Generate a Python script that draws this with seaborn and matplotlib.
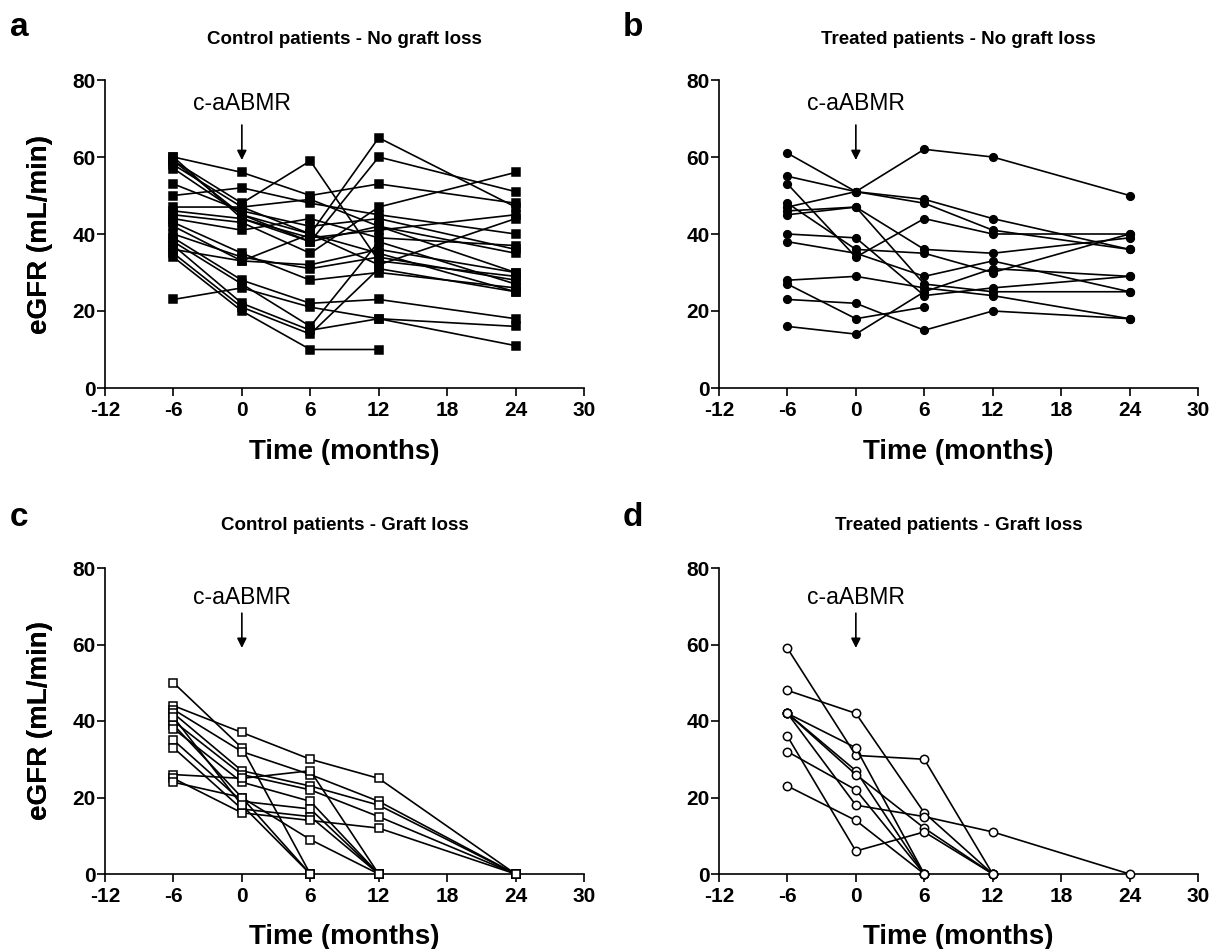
import numpy as np
import pandas as pd
import matplotlib
matplotlib.use("Agg")
import matplotlib.pyplot as plt
import seaborn as sns

# ---------------- data ----------------
times = [-6, 0, 6, 12, 24]
nan = np.nan

# a: Control patients - No graft loss
control_no_loss = [
    [60, 56, 50, 53, 48],
    [59, 48, 59, 33, 29],
    [58, 47, 40, 65, 47],
    [57, 45, 38, 60, 51],
    [53, 46, 42, 44, 36],
    [50, 52, 48, 45, 40],
    [47, 47, 49, 42, 35],
    [46, 44, 39, 41, 45],
    [45, 43, 35, 47, 56],
    [44, 41, 44, 39, 37],
    [43, 35, 28, 30, 26],
    [42, 33, 32, 36, 30],
    [40, 34, 31, 34, 28],
    [39, 28, 22, 23, 18],
    [38, 27, 16, 38, 27],
    [37, 22, 15, 18, 16],
    [36, 33, 40, 35, 25],
    [35, 21, 14, 31, 25],
    [34, 20, 10, 10, nan],
    [23, 26, 21, 18, 11],
    [59, 45, 40, 32, 44],
    [60, 44, 38, 42, 30],
]

# b: Treated patients - No graft loss
treated_no_loss = [
    [61, 51, 48, 41, 36],
    [47, 51, 62, 60, 50],
    [55, 51, 49, 44, 36],
    [16, 14, 25, 31, 29],
    [23, 22, 15, 20, 18],
    [27, 18, 21, nan, nan],
    [28, 29, 26, 24, 18],
    [46, 47, 36, 35, 39],
    [45, 47, 27, 25, 25],
    [53, 34, 44, 40, 40],
    [38, 35, 29, 33, 25],
    [40, 39, 24, 26, 29],
    [48, 36, 35, 30, 40],
]

# c: Control patients - Graft loss
control_loss = [
    [50, 33, 0, nan, nan],
    [44, 37, 30, 25, 0],
    [43, 32, 26, 19, 0],
    [42, 27, 23, 18, 0],
    [40, 26, 22, 15, 0],
    [39, 20, 0, nan, nan],
    [38, 24, 19, 0, nan],
    [35, 19, 17, 0, nan],
    [33, 17, 15, 0, nan],
    [26, 25, 27, 0, nan],
    [25, 16, 14, 12, 0],
    [24, 20, 9, 0, nan],
    [41, 18, 0, nan, nan],
]

# d: Treated patients - Graft loss
treated_loss = [
    [59, 31, 30, 0, nan],
    [48, 42, 16, 0, nan],
    [42, 33, 0, nan, nan],
    [42, 27, 0, nan, nan],
    [42, 26, 12, 0, nan],
    [36, 6, 11, 0, nan],
    [32, 22, 0, nan, nan],
    [23, 14, 0, nan, nan],
    [42, 18, 15, 11, 0],
]

panel_letters = ["a", "b", "c", "d"]
panel_titles = ["Control patients - No graft loss", "Treated patients - No graft loss",
                "Control patients - Graft loss", "Treated patients - Graft loss"]
x_ticks = [-12, -6, 0, 6, 12, 18, 24, 30]
y_ticks = [0, 20, 40, 60, 80]
x_label = "Time (months)"
y_label = "eGFR (mL/min)"
event_label = "c-aABMR"


def to_long(rows):
    recs = []
    for pid, row in enumerate(rows):
        for t, v in zip(times, row):
            if not np.isnan(v):
                recs.append({"patient": pid, "time": t, "egfr": v})
    return pd.DataFrame(recs)


datasets = [control_no_loss, treated_no_loss, control_loss, treated_loss]
markers = ["s", "o", "s", "o"]
facecolors = ["black", "black", "white", "white"]
msizes = [5.5, 5.5, 6.0, 6.0]

# ---------------- figure ----------------
sns.set_theme(style="ticks")
plt.rcParams["font.family"] = ["Liberation Sans", "DejaVu Sans"]
plt.rcParams["text.color"] = "black"
plt.rcParams["axes.labelcolor"] = "black"
plt.rcParams["xtick.color"] = "black"
plt.rcParams["ytick.color"] = "black"
plt.rcParams["axes.edgecolor"] = "black"

W, H = 1223, 949
fig = plt.figure(figsize=(W / 100, H / 100), dpi=100)

# axes boxes in pixels: (left, right, top, bottom)
boxes = [(105, 584, 80, 388), (719, 1198, 80, 388),
         (105, 584, 568, 874), (719, 1198, 568, 874)]
letter_pos = [(19, 28), (633, 28), (19, 518), (633, 518)]
title_y = [40, 40, 526, 526]
ann = [(74.0, 68.3, 59.2), (74.0, 68.3, 59.2), (72.2, 68.2, 59.1), (72.2, 68.2, 59.1)]

for i, (rows, (l, r, t, b)) in enumerate(zip(datasets, boxes)):
    ax = fig.add_axes([l / W, 1 - b / H, (r - l) / W, (b - t) / H])
    df = to_long(rows)
    sns.lineplot(data=df, x="time", y="egfr", units="patient", estimator=None,
                 color="black", lw=1.2, marker=markers[i], markersize=msizes[i],
                 markerfacecolor=facecolors[i], markeredgecolor="black",
                 markeredgewidth=1.1, ax=ax, legend=False, clip_on=False, zorder=3)
    ax.set_xlim(-12, 30)
    ax.set_ylim(0, 80)
    ax.set_xticks(x_ticks)
    ax.set_yticks(y_ticks)
    ax.set_xticklabels([str(v) for v in x_ticks])
    ax.set_yticklabels([str(v) for v in y_ticks])
    for s in ["top", "right"]:
        ax.spines[s].set_visible(False)
    for s in ["left", "bottom"]:
        ax.spines[s].set_linewidth(1.2)
        ax.spines[s].set_color("black")
    ax.tick_params(axis="both", direction="out", length=5.5, width=1.2, color="black",
                   labelcolor="black", labelsize=15)
    ax.tick_params(axis="x", pad=4)
    ax.tick_params(axis="y", pad=1)
    for lab in ax.get_xticklabels() + ax.get_yticklabels():
        lab.set_fontweight("bold")
    ax.set_xlabel(x_label, fontsize=20, fontweight="bold", color="black")
    ax.set_ylabel(y_label, fontsize=20, fontweight="bold", color="black")
    ax.xaxis.set_label_coords(0.5, -0.207)
    ax.xaxis.label.set_va("center")
    ax.yaxis.set_label_coords((40 - l) / (r - l), 0.5)
    ax.yaxis.label.set_va("center")
    ax.set_facecolor("white")

    ty, ay0, ay1 = ann[i]
    ax.text(0, ty, event_label, ha="center", va="center", fontsize=16.5, color="black")
    ax.annotate("", xy=(0, ay1), xytext=(0, ay0),
                arrowprops=dict(arrowstyle="-|>", color="black", lw=1.2,
                                mutation_scale=14, shrinkA=0, shrinkB=0))

    fig.text(((l + r) / 2) / W, 1 - title_y[i] / H, panel_titles[i],
             ha="center", va="center", fontsize=13.5, fontweight="bold", color="black")
    lx, ly = letter_pos[i]
    fig.text(lx / W, 1 - ly / H, panel_letters[i], ha="center", va="center",
             fontsize=24, fontweight="bold", color="black")

fig.savefig("out.png", dpi=100, facecolor="white")
